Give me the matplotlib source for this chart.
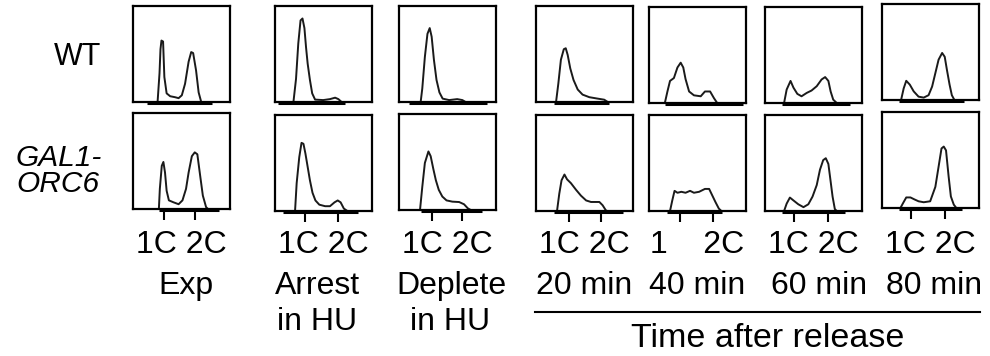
import matplotlib
matplotlib.use('Agg')
import matplotlib.pyplot as plt
from matplotlib.lines import Line2D

plt.rcParams['font.family'] = ['Liberation Sans', 'DejaVu Sans']

# DNA content axis: 1C = 1, 2C = 2 ; heights as fraction of panel height
# --- WT row ---
WT_EXP_X = [0.76, 0.82, 0.85, 0.88, 0.93, 0.97, 1.04, 1.15, 1.30, 1.41, 1.51, 1.61, 1.72, 1.80, 1.86, 1.95, 2.03, 2.11]
WT_EXP_Y = [0.00, 0.30, 0.55, 0.64, 0.63, 0.26, 0.09, 0.06, 0.05, 0.04, 0.07, 0.19, 0.42, 0.52, 0.51, 0.33, 0.10, 0.00]
WT_ARR_X = [0.57, 0.65, 0.72, 0.79, 0.85, 0.91, 0.96, 1.01, 1.08, 1.15, 1.24, 1.49, 1.70, 1.86, 1.96, 2.06]
WT_ARR_Y = [0.00, 0.24, 0.61, 0.85, 0.87, 0.77, 0.57, 0.40, 0.23, 0.09, 0.025, 0.02, 0.03, 0.045, 0.03, 0.00]
WT_DEP_X = [0.67, 0.72, 0.80, 0.88, 0.95, 1.01, 1.08, 1.16, 1.25, 1.35, 1.55, 1.80, 1.96, 2.06]
WT_DEP_Y = [0.00, 0.14, 0.47, 0.71, 0.77, 0.68, 0.44, 0.23, 0.10, 0.035, 0.02, 0.03, 0.02, 0.00]
WT_20_X = [0.62, 0.69, 0.77, 0.86, 0.92, 0.98, 1.06, 1.16, 1.29, 1.44, 1.65, 1.91, 2.11, 2.22]
WT_20_Y = [0.00, 0.19, 0.44, 0.55, 0.56, 0.49, 0.35, 0.23, 0.13, 0.077, 0.05, 0.035, 0.024, 0.00]
WT_40_X = [0.49, 0.57, 0.65, 0.77, 0.88, 0.98, 1.06, 1.13, 1.24, 1.39, 1.60, 1.73, 1.89, 2.01, 2.11]
WT_40_Y = [0.00, 0.12, 0.23, 0.26, 0.37, 0.42, 0.37, 0.25, 0.12, 0.08, 0.07, 0.12, 0.12, 0.05, 0.00]
WT_60_X = [0.59, 0.67, 0.79, 0.88, 1.00, 1.13, 1.29, 1.44, 1.60, 1.75, 1.86, 1.96, 2.03, 2.11, 2.22]
WT_60_Y = [0.00, 0.14, 0.23, 0.16, 0.095, 0.07, 0.105, 0.13, 0.175, 0.245, 0.27, 0.23, 0.12, 0.035, 0.00]
WT_80_X = [0.59, 0.67, 0.75, 0.86, 0.98, 1.13, 1.29, 1.44, 1.55, 1.65, 1.75, 1.86, 1.94, 2.01, 2.09, 2.16, 2.24]
WT_80_Y = [0.00, 0.12, 0.20, 0.16, 0.09, 0.035, 0.025, 0.05, 0.14, 0.28, 0.42, 0.49, 0.45, 0.31, 0.16, 0.05, 0.00]

# --- GAL1-ORC6 row ---
GAL_EXP_X = [0.80, 0.83, 0.89, 0.94, 0.99, 1.04, 1.11, 1.25, 1.41, 1.53, 1.64, 1.72, 1.82, 1.91, 1.99, 2.08, 2.16, 2.26, 2.32]
GAL_EXP_Y = [0.00, 0.21, 0.45, 0.49, 0.38, 0.19, 0.09, 0.07, 0.05, 0.09, 0.21, 0.38, 0.55, 0.59, 0.57, 0.34, 0.14, 0.02, 0.00]
GAL_ARR_X = [0.62, 0.67, 0.75, 0.82, 0.88, 0.94, 1.00, 1.08, 1.16, 1.25, 1.37, 1.55, 1.70, 1.84, 1.94, 2.03, 2.13, 2.24]
GAL_ARR_Y = [0.00, 0.29, 0.56, 0.71, 0.70, 0.60, 0.48, 0.32, 0.19, 0.11, 0.066, 0.05, 0.05, 0.09, 0.11, 0.09, 0.025, 0.00]
GAL_DEP_X = [0.65, 0.72, 0.80, 0.91, 0.98, 1.06, 1.14, 1.23, 1.34, 1.47, 1.65, 1.86, 2.01, 2.13, 2.22]
GAL_DEP_Y = [0.00, 0.24, 0.49, 0.61, 0.56, 0.43, 0.31, 0.21, 0.14, 0.10, 0.087, 0.083, 0.06, 0.017, 0.00]
GAL_20_X = [0.65, 0.72, 0.79, 0.88, 0.96, 1.08, 1.24, 1.39, 1.55, 1.70, 1.96, 2.06, 2.16, 2.20]
GAL_20_Y = [0.00, 0.18, 0.32, 0.38, 0.33, 0.29, 0.22, 0.16, 0.11, 0.094, 0.094, 0.06, 0.007, 0.00]
GAL_40_X = [0.65, 0.72, 0.79, 0.88, 1.00, 1.13, 1.27, 1.39, 1.55, 1.73, 1.86, 1.96, 2.06, 2.16, 2.24]
GAL_40_Y = [0.00, 0.11, 0.21, 0.19, 0.20, 0.19, 0.21, 0.19, 0.20, 0.23, 0.23, 0.16, 0.09, 0.025, 0.00]
GAL_60_X = [0.59, 0.67, 0.77, 0.88, 1.03, 1.19, 1.34, 1.47, 1.60, 1.70, 1.80, 1.88, 1.96, 2.01, 2.09, 2.16, 2.22]
GAL_60_Y = [0.00, 0.077, 0.14, 0.11, 0.07, 0.04, 0.07, 0.15, 0.27, 0.43, 0.53, 0.55, 0.49, 0.36, 0.15, 0.02, 0.00]
GAL_80_X = [0.57, 0.65, 0.75, 0.88, 1.00, 1.13, 1.29, 1.49, 1.65, 1.75, 1.84, 1.91, 1.98, 2.06, 2.13, 2.22, 2.30]
GAL_80_Y = [0.00, 0.05, 0.11, 0.11, 0.09, 0.07, 0.06, 0.07, 0.22, 0.43, 0.62, 0.64, 0.60, 0.33, 0.12, 0.035, 0.00]

# baseline segment under each histogram (start, end on DNA axis)
WT_BASE = [(0.42, 2.45), (0.10, 2.16), (0.31, 2.73), (0.57, 2.27), (0.50, 2.90), (0.52, 2.63), (0.52, 2.55)]
GAL_BASE = [(0.80, 2.65), (0.26, 2.58), (0.67, 2.58), (0.57, 2.68), (0.57, 2.27), (0.52, 2.47), (0.52, 2.47)]

# 1C / 2C tick positions per column
TICKS = [(0.97, 1.93), (0.93, 1.96), (1.03, 1.96), (1.03, 2.01), (0.96, 1.99), (0.91, 1.96), (0.91, 1.96)]
DNA_LABELS = ['1C 2C', '1C 2C', '1C 2C', '1C 2C', '1    2C', '1C 2C', '1C 2C']
COL_LINE1 = ['Exp', 'Arrest', 'Deplete', '20 min', '40 min', '60 min', '80 min']
COL_LINE2 = ['', 'in HU', 'in HU', '', '', '', '']

WT_ROW = [(WT_EXP_X, WT_EXP_Y), (WT_ARR_X, WT_ARR_Y), (WT_DEP_X, WT_DEP_Y),
          (WT_20_X, WT_20_Y), (WT_40_X, WT_40_Y), (WT_60_X, WT_60_Y), (WT_80_X, WT_80_Y)]
GAL_ROW = [(GAL_EXP_X, GAL_EXP_Y), (GAL_ARR_X, GAL_ARR_Y), (GAL_DEP_X, GAL_DEP_Y),
           (GAL_20_X, GAL_20_Y), (GAL_40_X, GAL_40_Y), (GAL_60_X, GAL_60_Y), (GAL_80_X, GAL_80_Y)]

# layout in pixels
W, H = 990, 356
PANEL_LEFT = [133, 275, 399, 536, 649, 765, 882]
TOP_Y = [6, 6, 6, 6, 7, 7, 4]
BOT_Y = [113, 115, 114, 115, 115, 115, 112]
PW, PH = 97, 96
COL_SHIFT = [4, -6, 4, 0, 0, 6, 4]
LINE2_SHIFT = [0, -6, 3, 0, 0, 0, 0]
FS = 23

fig = plt.figure(figsize=(W / 100, H / 100), dpi=100)


def px(x, y):
    return x / W, 1 - y / H


def panel(left, top, xs, ys, base, ticks=None):
    ax = fig.add_axes([left / W, 1 - (top + PH) / H, PW / W, PH / H])
    ax.plot(xs, ys, color='#1a1a1a', lw=1.4)
    ax.plot(base, [-0.012, -0.012], color='black', lw=2.2, clip_on=False, solid_capstyle='butt')
    ax.set_xlim(0, 3)
    ax.set_ylim(0, 1)
    ax.set_yticks([])
    for s in ax.spines.values():
        s.set_linewidth(1.6)
    if ticks is None:
        ax.set_xticks([])
    else:
        ax.set_xticks(ticks)
        ax.set_xticklabels([])
        ax.tick_params(axis='x', direction='out', length=8, width=1.5)
    return ax


for i in range(7):
    panel(PANEL_LEFT[i], TOP_Y[i], WT_ROW[i][0], WT_ROW[i][1], WT_BASE[i])
    panel(PANEL_LEFT[i], BOT_Y[i], GAL_ROW[i][0], GAL_ROW[i][1], GAL_BASE[i], TICKS[i])
    cx = PANEL_LEFT[i] + PW / 2
    fig.text(*px(cx, 253), DNA_LABELS[i], ha='center', va='baseline', fontsize=FS)
    fig.text(*px(cx + COL_SHIFT[i], 294), COL_LINE1[i], ha='center', va='baseline', fontsize=FS)
    if COL_LINE2[i]:
        fig.text(*px(cx + LINE2_SHIFT[i], 330), COL_LINE2[i], ha='center', va='baseline', fontsize=FS)

# row labels
fig.text(*px(101, 65), 'WT', ha='right', va='baseline', fontsize=22)
fig.text(*px(102, 166), 'GAL1-', ha='right', va='baseline', fontsize=21.5, style='italic')
fig.text(*px(100, 192), 'ORC6', ha='right', va='baseline', fontsize=21.5, style='italic')

# time after release bracket
fig.add_artist(Line2D([535 / W, 980 / W], [1 - 312 / H, 1 - 312 / H], color='black', lw=1.5))
fig.text(*px(768, 347), 'Time after release', ha='center', va='baseline', fontsize=24.5)

fig.savefig('out.png', dpi=100)
